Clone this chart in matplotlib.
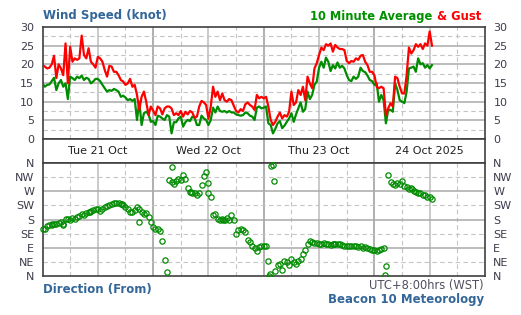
import numpy as np
import matplotlib.pyplot as plt

# hours since Tue 21 Oct 2025 00:00 (WST), half-hour samples
hours = np.arange(0, 85, 0.5)

gust = [19.8, 19.4, 18.9, 19.1, 20.0, 22.3, 16.3, 20.0, 18.9, 17.1, 25.6, 14.9, 24.7, 20.7, 21.6, 21.2,
        21.6, 27.7, 22.5, 21.6, 24.3, 20.7, 20.0, 19.1, 22.0, 21.6, 20.7, 18.5, 16.7, 19.6, 19.4, 18.0,
        18.0, 17.1, 15.8, 15.4, 14.5, 14.9, 16.1, 14.0, 14.5, 11.8, 7.8, 11.3, 12.7, 10.0, 6.4, 8.7, 7.6,
        6.4, 8.7, 8.2, 6.6, 8.2, 8.7, 8.7, 8.2, 6.4, 6.9, 6.4, 7.5, 6.0, 7.3, 6.6, 7.5, 7.1, 5.7, 6.0,
        8.7, 10.2, 9.8, 9.1, 5.4, 8.7, 14.0, 11.3, 12.7, 10.4, 12.2, 10.4, 10.0, 10.7, 10.4, 8.9, 7.5,
        7.1, 8.0, 7.5, 9.3, 9.8, 9.1, 8.7, 7.8, 11.8, 10.9, 11.3, 10.9,
        11.3, 8.7, 5.1, 3.75, 4.6, 6.0, 7.1, 5.5, 6.4, 6.0, 7.3, 12.7, 9.1, 9.8, 13.1, 11.8, 14.0, 10.4,
        16.7, 14.9, 13.6, 18.9, 20.3, 22.5, 24.5, 23.8, 25.4, 25.0, 25.6, 23.4, 25.2, 24.5, 24.1, 24.1,
        23.8, 20.9, 20.3, 20.9, 20.7, 21.6, 21.2, 22.3, 22.5, 20.7, 19.8, 18.0, 18.0, 17.1,
        14.0, 13.6, 14.0, 13.6, 6.4, 8.2, 9.6, 8.7, 16.7, 16.3, 14.0, 12.2, 12.2, 17.1, 24.5, 22.9,
        23.8, 25.4, 24.7, 25.4, 24.1, 25.6, 25.0, 28.8, 25.0]

avg = [14.9, 14.0, 14.5, 14.6, 15.5, 16.4, 13.1, 14.9, 15.8, 14.0, 14.9, 10.7, 16.7, 16.3, 15.8, 16.7,
       16.3, 17.0, 15.8, 16.4, 16.1, 14.9, 15.4, 16.1, 16.1, 15.5, 14.5, 13.6, 12.7, 13.1, 12.9, 13.4,
       13.1, 12.7, 11.3, 11.6, 11.1, 10.4, 10.7, 10.2, 10.7, 5.1, 10.0, 3.75, 6.9, 7.3, 6.6, 4.6, 4.8,
       3.75, 6.25, 6.0, 5.5, 5.1, 6.4, 6.0, 1.5, 4.5, 4.5, 5.5, 6.0, 3.3, 4.5, 5.1, 4.8, 6.0, 5.7, 3.75,
       3.75, 6.25, 5.5, 5.1, 3.75, 5.1, 8.4, 7.1, 8.7, 7.5, 7.3, 7.5, 7.1, 7.5, 7.1, 7.1, 6.6, 6.4,
       6.25, 6.4, 7.1, 6.9, 6.25, 6.0, 5.1, 8.4, 8.7, 8.2, 8.4,
       8.7, 4.2, 3.75, 1.5, 2.7, 4.2, 4.8, 2.9, 3.6, 4.6, 5.5, 6.9, 4.6, 6.6, 8.2, 9.8, 7.3, 8.0, 12.7,
       10.7, 11.8, 14.5, 15.4, 19.1, 20.7, 19.1, 21.8, 20.7, 18.2, 19.8, 18.9, 20.5, 19.1, 19.6, 18.9,
       17.1, 15.8, 15.5, 16.7, 16.1, 16.7, 19.1, 18.2, 17.9, 17.0, 15.8, 15.5, 14.5,
       14.9, 10.0, 11.8, 10.4, 4.2, 7.8, 7.8, 7.3, 14.9, 13.1, 10.4, 10.0, 9.6, 12.7, 18.9, 19.1,
       19.4, 18.0, 21.6, 20.0, 20.3, 19.1, 19.8, 18.9, 19.8]

direction = [151, 151, 159, 162, 165, 167, 167, 169, 172, 167, 183, 183, 180, 186, 183, 189, 191, 197,
             194, 201, 205, 208, 210, 212, 215, 208, 212, 221, 223, 226, 229, 231, 234, 231, 229, 226,
             221, 212, 205, 205, 210, 221, 212, 205, 199, 201, 189, 172, 156,
             151, 151, 144, 111, 51, 12, 306, 301, 294, 304, 309, 306, 322, 309, 280, 269, 266, 264,
             258, 264, 290, 317, 330, 296, 253, 194, 199, 183, 178, 183, 178, 186, 178, 194, 178, 135,
             146, 151, 146, 140, 114, 108, 97, 90, 81, 92, 94, 97,
             97, 49, 349, 355, 17, 36, 39, 19, 49, 44, 36, 55, 44, 39, 49, 55, 71, 84, 103, 111, 108,
             105, 105, 103, 103, 105, 103, 101, 100, 101, 103, 101, 101, 100, 97, 97, 95, 96, 94, 94,
             92, 94, 90, 92, 90, 87, 84, 84,
             81, 84, 87, 90, 32, 322, 298, 294, 290, 296, 294, 304, 287, 285, 276, 280, 272, 269, 266,
             264, 258, 258, 253, 251, 244]

# scattered single readings
dir_extra_h = [4.5, 21.0, 28.0, 36.0, 49.2, 49.4, 50.2, 74.3, 2.0, 10.2, 17.2, 32.2, 39.2, 63.2, 80.2]
dir_extra_deg = [162, 172, 347, 264, 1, 6, 304, 4, 163, 203, 228, 268, 180, 103, 278]

day_pos = [12, 36, 60, 84]
day_labels = ['Tue 21 Oct', 'Wed 22 Oct', 'Thu 23 Oct', '24 Oct 2025']
dir_labels = ['N', 'NE', 'E', 'SE', 'S', 'SW', 'W', 'NW', 'N']

RED = '#ff0000'
GREEN = '#008c00'
BLUE = '#336699'
TXT = '#3c3c4c'

W, H = 521, 315
fig = plt.figure(figsize=(W / 100, H / 100), dpi=100)


def box(x0, y0, x1, y1):
    return [x0 / W, 1 - y1 / H, (x1 - x0) / W, (y1 - y0) / H]


ax1 = fig.add_axes(box(42.5, 27, 485, 139))
axm = fig.add_axes(box(42.5, 139, 485, 163))
ax2 = fig.add_axes(box(42.5, 163, 485, 276))


def vgrid(ax, full=True):
    for h in range(6, 96, 6):
        if h % 24 == 0:
            ax.axvline(h, color='#9a9a9a', lw=1.1, zorder=1)
        elif full and h % 12 == 0:
            ax.axvline(h, color='#bcbcbc', lw=1.1, zorder=1)
        elif full:
            ax.axvline(h, color='#c4c4c4', lw=0.8, dashes=(4, 3), zorder=1)


for ax in (ax1, axm, ax2):
    ax.set_xlim(0, 96)
    ax.set_xticks([])
    for sp in ax.spines.values():
        sp.set_color('#404040')
        sp.set_linewidth(1.2)

# wind speed
vgrid(ax1)
for v in np.arange(2.5, 30, 2.5):
    if v % 5 == 0:
        ax1.axhline(v, color='#aaaaaa', lw=1.1, zorder=1)
    else:
        ax1.axhline(v, color='#c4c4c4', lw=0.8, dashes=(4, 3), zorder=1)
ax1.plot(hours, avg, color=GREEN, lw=1.6, zorder=3)
ax1.plot(hours, gust, color=RED, lw=1.6, zorder=4)
ax1.set_ylim(0, 30)
ax1.set_yticks(range(0, 31, 5))
ax1.tick_params(axis='y', length=0, pad=6, labelsize=8, labelcolor=TXT, labelright=True)

# day strip
vgrid(axm, full=False)
axm.set_ylim(0, 1)
axm.set_yticks([])
for p, lab in zip(day_pos, day_labels):
    axm.text(p, 0.5, lab, ha='center', va='center', fontsize=8, color='#202020')

# direction
vgrid(ax2)
for d in range(45, 360, 45):
    if d % 90 == 0:
        ax2.axhline(d, color='#aaaaaa', lw=1.1, zorder=1)
    else:
        ax2.axhline(d, color='#c4c4c4', lw=0.8, dashes=(4, 3), zorder=1)
ax2.plot(hours, direction, 'o', ms=3.8, mfc='none', mec=GREEN, mew=0.9, zorder=3, clip_on=False)
ax2.plot(dir_extra_h, dir_extra_deg, 'o', ms=3.8, mfc='none', mec=GREEN, mew=0.9, zorder=3)
ax2.set_ylim(0, 360)
ax2.set_yticks(range(0, 361, 45))
ax2.set_yticklabels(dir_labels)
ax2.tick_params(axis='y', length=0, pad=6, labelsize=8, labelcolor=TXT, labelright=True)

# titles
fig.text(43 / W, 1 - 16 / H, 'Wind Speed (knot)', fontsize=8.5, fontweight='bold',
         color=BLUE, ha='left', va='center')
t_gust = fig.text(481 / W, 1 - 16.5 / H, '& Gust', fontsize=8.3, fontweight='bold',
                  color=RED, ha='right', va='center')
ax1.annotate('10 Minute Average', xy=(0, 0.5), xycoords=t_gust, xytext=(-3.5, 0),
             textcoords='offset points', fontsize=8.3, fontweight='bold', color='#009000',
             ha='right', va='center', annotation_clip=False)
fig.text(43 / W, 1 - 289 / H, 'Direction (From)', fontsize=8.5, fontweight='bold',
         color=BLUE, ha='left', va='center')
fig.text(484 / W, 1 - 286 / H, 'UTC+8:00hrs (WST)', fontsize=8.3, color='#505060',
         ha='right', va='center')
fig.text(484 / W, 1 - 299 / H, 'Beacon 10 Meteorology', fontsize=8.5, fontweight='bold',
         color=BLUE, ha='right', va='center')

fig.savefig('out.png', dpi=100, facecolor='white')
